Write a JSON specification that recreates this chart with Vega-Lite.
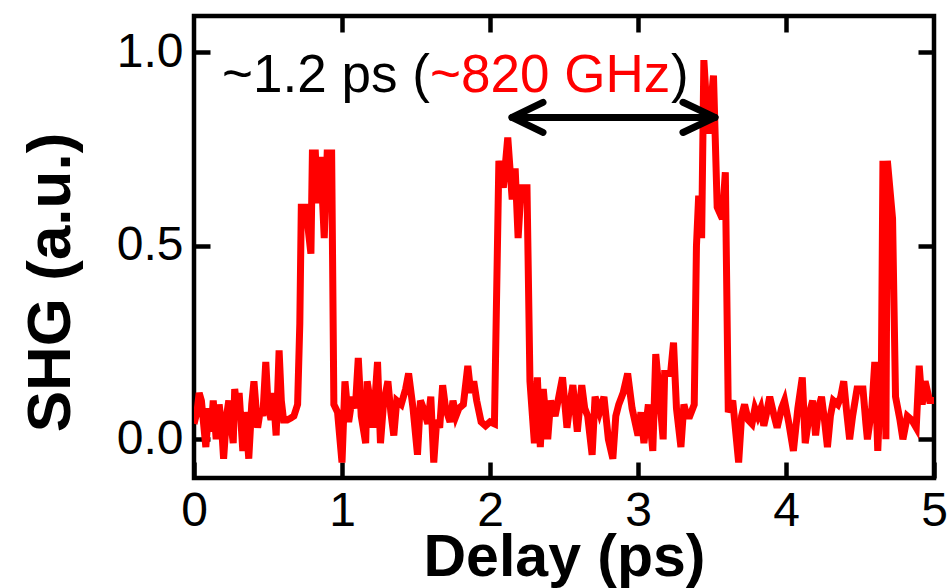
{
  "$schema": "https://vega.github.io/schema/vega-lite/v6.json",
  "width": 740,
  "height": 462,
  "autosize": {"type": "none"},
  "padding": {"left": 194, "top": 16, "right": 15, "bottom": 110},
  "background": "white",
  "config": {
    "view": {"stroke": "black", "strokeWidth": 4.5},
    "axis": {"grid": false, "domain": false, "tickColor": "black", "tickWidth": 4.5, "tickSize": -16, "labelColor": "black", "titleColor": "black", "labelFont": "Liberation Sans", "titleFont": "Liberation Sans"}
  },
  "datasets": {
    "trace": [
      {"t":0.00,"s":0.04},{"t":0.02,"s":0.07},{"t":0.035,"s":0.12},{"t":0.05,"s":0.10},{"t":0.08,"s":-0.02},{"t":0.10,"s":0.08},{"t":0.115,"s":0.02},{"t":0.13,"s":0.10},{"t":0.15,"s":0.00},{"t":0.17,"s":0.09},{"t":0.185,"s":0.04},{"t":0.20,"s":-0.05},{"t":0.22,"s":0.06},{"t":0.235,"s":0.10},{"t":0.25,"s":0.04},{"t":0.265,"s":-0.01},{"t":0.275,"s":0.13},{"t":0.29,"s":0.08},{"t":0.305,"s":0.12},{"t":0.33,"s":-0.03},{"t":0.34,"s":0.07},{"t":0.355,"s":0.03},{"t":0.37,"s":-0.05},{"t":0.39,"s":0.09},{"t":0.405,"s":0.15},{"t":0.43,"s":0.03},{"t":0.45,"s":0.08},{"t":0.465,"s":0.06},{"t":0.485,"s":0.20},{"t":0.50,"s":0.09},{"t":0.52,"s":0.05},{"t":0.535,"s":0.12},{"t":0.555,"s":0.01},{"t":0.575,"s":0.23},{"t":0.59,"s":0.10},{"t":0.605,"s":0.05},{"t":0.63,"s":0.05},{"t":0.655,"s":0.055},{"t":0.675,"s":0.06},{"t":0.70,"s":0.09},{"t":0.715,"s":0.30},{"t":0.725,"s":0.60},{"t":0.755,"s":0.60},{"t":0.79,"s":0.48},{"t":0.80,"s":0.74},{"t":0.82,"s":0.74},{"t":0.835,"s":0.61},{"t":0.855,"s":0.73},{"t":0.88,"s":0.52},{"t":0.90,"s":0.74},{"t":0.93,"s":0.74},{"t":0.945,"s":0.09},{"t":0.97,"s":0.07},{"t":1.00,"s":-0.06},{"t":1.02,"s":0.15},{"t":1.045,"s":0.045},{"t":1.07,"s":0.11},{"t":1.09,"s":0.08},{"t":1.11,"s":0.21},{"t":1.13,"s":0.06},{"t":1.16,"s":-0.01},{"t":1.17,"s":0.15},{"t":1.19,"s":0.10},{"t":1.21,"s":0.03},{"t":1.24,"s":0.20},{"t":1.26,"s":-0.01},{"t":1.28,"s":0.09},{"t":1.31,"s":0.15},{"t":1.33,"s":0.07},{"t":1.35,"s":0.01},{"t":1.37,"s":0.10},{"t":1.40,"s":0.09},{"t":1.43,"s":0.13},{"t":1.45,"s":0.17},{"t":1.48,"s":0.08},{"t":1.51,"s":-0.04},{"t":1.53,"s":0.10},{"t":1.55,"s":0.08},{"t":1.58,"s":0.04},{"t":1.60,"s":0.11},{"t":1.62,"s":-0.06},{"t":1.64,"s":0.05},{"t":1.66,"s":0.03},{"t":1.68,"s":0.14},{"t":1.70,"s":0.08},{"t":1.73,"s":0.045},{"t":1.75,"s":0.10},{"t":1.77,"s":0.06},{"t":1.79,"s":0.08},{"t":1.82,"s":0.09},{"t":1.85,"s":0.19},{"t":1.87,"s":0.12},{"t":1.89,"s":0.15},{"t":1.91,"s":0.10},{"t":1.94,"s":0.045},{"t":1.97,"s":0.035},{"t":2.00,"s":0.045},{"t":2.03,"s":0.04},{"t":2.06,"s":0.72},{"t":2.09,"s":0.65},{"t":2.12,"s":0.78},{"t":2.15,"s":0.62},{"t":2.17,"s":0.70},{"t":2.19,"s":0.52},{"t":2.21,"s":0.65},{"t":2.25,"s":0.65},{"t":2.27,"s":0.15},{"t":2.30,"s":-0.01},{"t":2.32,"s":0.16},{"t":2.34,"s":-0.02},{"t":2.36,"s":0.13},{"t":2.39,"s":0.0},{"t":2.41,"s":0.10},{"t":2.44,"s":0.06},{"t":2.46,"s":0.10},{"t":2.49,"s":0.16},{"t":2.52,"s":0.03},{"t":2.54,"s":0.09},{"t":2.56,"s":0.14},{"t":2.59,"s":0.02},{"t":2.62,"s":0.14},{"t":2.64,"s":0.08},{"t":2.66,"s":0.06},{"t":2.69,"s":-0.04},{"t":2.71,"s":0.11},{"t":2.74,"s":0.07},{"t":2.77,"s":0.11},{"t":2.80,"s":0.0},{"t":2.83,"s":-0.05},{"t":2.85,"s":0.06},{"t":2.87,"s":0.09},{"t":2.90,"s":0.12},{"t":2.93,"s":0.17},{"t":2.96,"s":0.08},{"t":3.00,"s":0.01},{"t":3.02,"s":0.07},{"t":3.04,"s":-0.01},{"t":3.07,"s":0.09},{"t":3.10,"s":-0.03},{"t":3.12,"s":0.22},{"t":3.15,"s":0.09},{"t":3.17,"s":0.0},{"t":3.18,"s":0.17},{"t":3.22,"s":0.17},{"t":3.24,"s":0.25},{"t":3.26,"s":0.08},{"t":3.29,"s":-0.02},{"t":3.31,"s":0.09},{"t":3.33,"s":0.06},{"t":3.35,"s":0.06},{"t":3.38,"s":0.09},{"t":3.395,"s":0.50},{"t":3.41,"s":0.63},{"t":3.43,"s":0.52},{"t":3.445,"s":0.98},{"t":3.475,"s":0.79},{"t":3.51,"s":0.94},{"t":3.535,"s":0.60},{"t":3.57,"s":0.57},{"t":3.59,"s":0.69},{"t":3.61,"s":0.07},{"t":3.64,"s":0.10},{"t":3.68,"s":-0.06},{"t":3.70,"s":0.06},{"t":3.72,"s":0.09},{"t":3.745,"s":0.05},{"t":3.77,"s":0.04},{"t":3.79,"s":0.08},{"t":3.81,"s":0.06},{"t":3.83,"s":0.08},{"t":3.85,"s":0.035},{"t":3.87,"s":0.07},{"t":3.89,"s":0.11},{"t":3.92,"s":0.06},{"t":3.94,"s":0.03},{"t":3.97,"s":0.08},{"t":3.99,"s":0.10},{"t":4.02,"s":0.04},{"t":4.05,"s":-0.03},{"t":4.08,"s":0.08},{"t":4.11,"s":0.16},{"t":4.13,"s":-0.01},{"t":4.16,"s":0.07},{"t":4.18,"s":0.10},{"t":4.20,"s":0.01},{"t":4.22,"s":0.08},{"t":4.24,"s":0.11},{"t":4.26,"s":0.05},{"t":4.28,"s":-0.02},{"t":4.30,"s":0.06},{"t":4.32,"s":0.10},{"t":4.35,"s":0.09},{"t":4.37,"s":0.11},{"t":4.39,"s":0.15},{"t":4.41,"s":0.07},{"t":4.43,"s":0.0},{"t":4.45,"s":0.06},{"t":4.48,"s":0.13},{"t":4.52,"s":0.13},{"t":4.54,"s":0.04},{"t":4.55,"s":0.0},{"t":4.58,"s":0.08},{"t":4.60,"s":0.20},{"t":4.62,"s":-0.03},{"t":4.645,"s":0.20},{"t":4.655,"s":0.72},{"t":4.675,"s":0.0},{"t":4.685,"s":0.72},{"t":4.72,"s":0.57},{"t":4.74,"s":0.11},{"t":4.77,"s":0.05},{"t":4.79,"s":0.0},{"t":4.82,"s":0.06},{"t":4.85,"s":0.05},{"t":4.88,"s":0.03},{"t":4.90,"s":0.19},{"t":4.92,"s":0.09},{"t":4.94,"s":0.15},{"t":4.97,"s":0.10},{"t":5.00,"s":0.10}
    ],
    "shaft": [{"x1": 2.149, "x2": 3.52, "y": 0.832}],
    "heads": [
      {"h": "L", "o": 0, "x": 2.358, "y": 0.871},
      {"h": "L", "o": 1, "x": 2.149, "y": 0.832},
      {"h": "L", "o": 2, "x": 2.358, "y": 0.793},
      {"h": "R", "o": 0, "x": 3.304, "y": 0.871},
      {"h": "R", "o": 1, "x": 3.52, "y": 0.832},
      {"h": "R", "o": 2, "x": 3.304, "y": 0.793}
    ],
    "label": [{"a": "~1.2 ps (", "b": "~820 GHz", "c": ")"}]
  },
  "resolve": {"axis": {"x": "independent", "y": "independent"}},
  "layer": [
    {
      "data": {"name": "trace"},
      "mark": {"type": "line", "color": "#FF0000", "strokeWidth": 7, "strokeJoin": "miter", "clip": true},
      "encoding": {
        "x": {"field": "t", "type": "quantitative", "scale": {"domain": [0, 5], "nice": false, "zero": false},
          "axis": {"orient": "bottom", "values": [0, 1, 2, 3, 4, 5], "format": "d", "labelFontSize": 48, "labelPadding": 25, "labelFlush": false, "labelOverlap": false, "title": "Delay (ps)", "titleFontSize": 59, "titleFontWeight": "bold", "titlePadding": -7}},
        "y": {"field": "s", "type": "quantitative", "scale": {"domain": [-0.1, 1.094], "nice": false, "zero": false},
          "axis": {"orient": "left", "values": [0, 0.5, 1], "format": ".1f", "labelFontSize": 48, "labelPadding": 27, "labelFlush": false, "labelOverlap": false, "title": "SHG (a.u.)", "titleFontSize": 62, "titleFontWeight": "bold", "titlePadding": 34, "titleY": 266}}
      }
    },
    {
      "data": {"name": "shaft"},
      "mark": {"type": "rule", "color": "black", "strokeWidth": 7, "strokeCap": "round"},
      "encoding": {
        "x": {"field": "x1", "type": "quantitative", "scale": {"domain": [0, 5], "nice": false, "zero": false},
          "axis": {"orient": "top", "values": [1, 2, 3, 4], "labels": false, "title": null}},
        "x2": {"field": "x2"},
        "y": {"field": "y", "type": "quantitative", "scale": {"domain": [-0.1, 1.094], "nice": false, "zero": false},
          "axis": {"orient": "right", "values": [0, 0.5, 1], "labels": false, "title": null}}
      }
    },
    {
      "data": {"name": "heads"},
      "mark": {"type": "line", "color": "black", "strokeWidth": 7, "strokeCap": "round", "strokeJoin": "round"},
      "encoding": {
        "x": {"field": "x", "type": "quantitative", "axis": null},
        "y": {"field": "y", "type": "quantitative", "axis": null},
        "detail": {"field": "h"},
        "order": {"field": "o"}
      }
    },
    {
      "data": {"name": "label"},
      "mark": {"type": "text", "font": "Liberation Sans", "fontSize": 53, "align": "left", "baseline": "alphabetic", "color": "black"},
      "encoding": {"x": {"datum": 0.19, "type": "quantitative", "axis": null}, "y": {"datum": 0.897, "type": "quantitative", "axis": null}, "text": {"field": "a"}}
    },
    {
      "data": {"name": "label"},
      "mark": {"type": "text", "font": "Liberation Sans", "fontSize": 53, "align": "left", "baseline": "alphabetic", "color": "#FF0000", "dx": 208},
      "encoding": {"x": {"datum": 0.19, "type": "quantitative", "axis": null}, "y": {"datum": 0.897, "type": "quantitative", "axis": null}, "text": {"field": "b"}}
    },
    {
      "data": {"name": "label"},
      "mark": {"type": "text", "font": "Liberation Sans", "fontSize": 53, "align": "left", "baseline": "alphabetic", "color": "black", "dx": 449},
      "encoding": {"x": {"datum": 0.19, "type": "quantitative", "axis": null}, "y": {"datum": 0.897, "type": "quantitative", "axis": null}, "text": {"field": "c"}}
    }
  ]
}
